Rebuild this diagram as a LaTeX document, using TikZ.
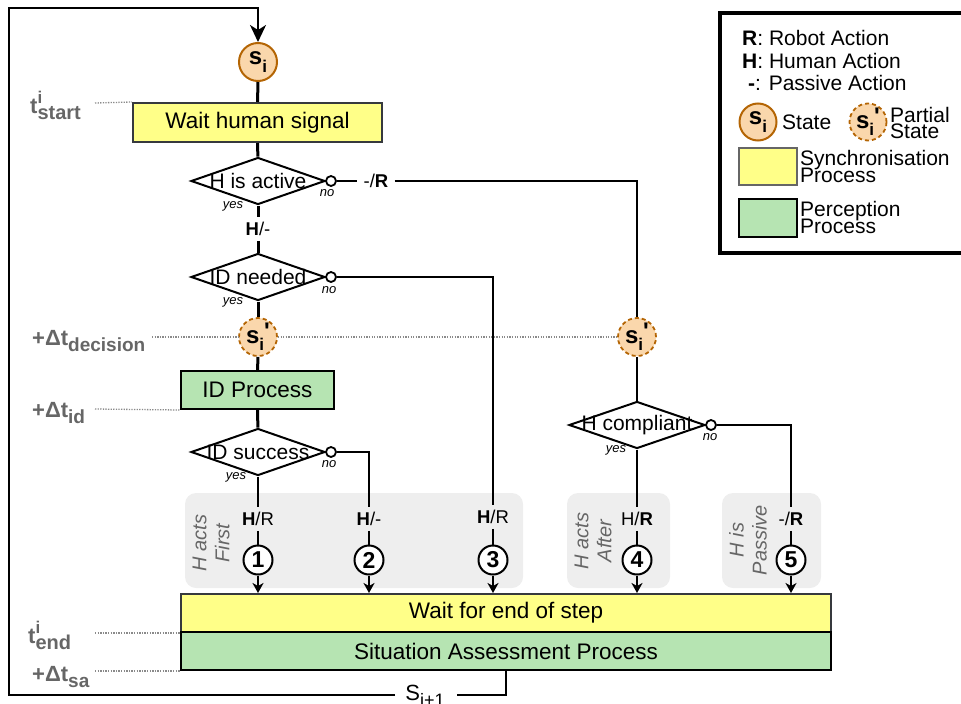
\documentclass[tikz,border=0pt]{standalone}
\usepackage{fontspec}
\setmainfont{Liberation Sans}
\usetikzlibrary{shapes.geometric,arrows.meta}
\newcommand\fsz[1]{\fontsize{#1}{#1}\selectfont}
\newcommand\dn[2]{\raisebox{-0.3em}{\fsz{#1}#2}}
\newcommand\tsupsub[2]{\rlap{\raisebox{0.45em}{\fsz{17}#1}}\raisebox{-0.3em}{\fsz{20}#2}}
\definecolor{syncfill}{HTML}{FFFF88}
\definecolor{syncline}{HTML}{36393D}
\definecolor{percfill}{HTML}{B6E4B2}
\definecolor{statefill}{HTML}{FAD7AC}
\definecolor{stateline}{HTML}{B46504}
\definecolor{regionfill}{HTML}{EEEEEE}
\definecolor{timegray}{HTML}{666666}
\definecolor{dotgray}{HTML}{8A8A8A}
\begin{document}
\begin{tikzpicture}[x=1pt,y=-1pt,
  proc/.style={rectangle, draw=syncline, line width=2pt, inner sep=0, font=\fsz{22.5}},
  sync/.style={proc, fill=syncfill},
  perc/.style={proc, fill=percfill, draw=black},
  dia/.style={diamond, draw, line width=2pt, fill=white, inner sep=0, minimum width=134pt, minimum height=47pt},
  dtext/.style={font=\fsz{21}, inner sep=0},
  port/.style={circle, draw, line width=1.8pt, fill=white, minimum size=10pt, inner sep=0},
  yn/.style={font=\itshape\fsz{13}, inner sep=0},
  state/.style={circle, draw=stateline, fill=statefill, line width=2pt, minimum size=38pt, inner sep=0, font=\bfseries\fsz{24}},
  pstate/.style={state, dash pattern=on 4pt off 3pt, line width=1.8pt},
  num/.style={circle, draw, fill=white, line width=2pt, minimum size=29pt, inner sep=0, font=\bfseries\fsz{23}},
  act/.style={font=\fsz{18.5}, inner xsep=6pt, inner ysep=5pt},
  flow/.style={line width=3pt},
  conn/.style={line width=2pt},
  arr/.style={conn, -{Stealth[length=10pt,width=11pt,inset=3pt]}},
  region/.style={fill=regionfill, rounded corners=11pt, inner sep=0},
  regtext/.style={font=\itshape\fontsize{20}{23}\selectfont, text=timegray, rotate=90, align=center, inner sep=0},
  tlab/.style={font=\bfseries\fsz{22}, text=timegray, anchor=base west, inner sep=0},
  tline/.style={dotgray, line width=1.3pt, dash pattern=on 1.3pt off 1.3pt},
  leg/.style={font=\fsz{21}, anchor=base west, inner sep=0},
  legframe/.style={line width=3.5pt}
]
\useasboundingbox (0,0) rectangle (961,704);

% grey regions
\node[region, minimum width=338pt, minimum height=95pt] (r1) at (354,540.5) {};
\node[region, minimum width=103pt, minimum height=95pt] (r2) at (618.5,540.5) {};
\node[region, minimum width=99pt, minimum height=95pt] (r3) at (771.5,540.5) {};
\node[regtext] (r1t) at (211,543) {H acts\\First};
\node[regtext] (r2t) at (593,541) {H acts\\After};
\node[regtext] (r3t) at (748,540) {H is\\Passive};

% main nodes
\node[state] (si) at (258,62) {s\dn{17}{i}};
\node[sync, minimum width=249pt, minimum height=39pt] (wait1) at (257.5,122.5) {Wait human signal};
\node[dia] (d1) at (258,181) {};
\node[dtext] (d1t) at (d1) {H is active};
\node[port] (p1) at ([xshift=5pt]d1.east) {};
\node[act] (hl) at (258,229) {\textbf{H}/-};
\node[dia] (d2) at (258,277) {};
\node[dtext] (d2t) at (d2) {ID needed};
\node[port] (p2) at ([xshift=5pt]d2.east) {};
\node[pstate] (ps1) at (258,337) {s\dn{17}{i}\raisebox{0.15em}{\textquotesingle}};
\node[perc, minimum width=153pt, minimum height=38pt] (idp) at (257.5,390) {ID Process};
\node[dia] (d3) at (258,452) {};
\node[dtext] (d3t) at (d3) {ID success};
\node[port] (p3) at ([xshift=5pt]d3.east) {};
\node[act] (rl) at (376,181) {-/\textbf{R}};
\node[pstate] (ps2) at (637,337) {s\dn{17}{i}\raisebox{0.15em}{\textquotesingle}};
\node[dia, minimum width=136pt] (d4) at (637,425) {};
\node[dtext] (d4t) at (d4) {H compliant};
\node[port] (p4) at ([xshift=5pt]d4.east) {};

\node[yn] (y1) at (233,206) {yes};
\node[yn] (n1l) at (327,193) {no};
\node[yn] (y2) at (233,302) {yes};
\node[yn] (n2l) at (329,290) {no};
\node[yn] (y3) at (236,477) {yes};
\node[yn] (n3l) at (329,464) {no};
\node[yn] (y4) at (616,450) {yes};
\node[yn] (n4l) at (710,437) {no};

\node[act] (l1) at (258,519) {\textbf{H}/R};
\node[act] (l2) at (369,519) {\textbf{H}/-};
\node[act] (l3) at (493,517) {\textbf{H}/R};
\node[act] (l4) at (637,519) {H/\textbf{R}};
\node[act] (l5) at (791,519) {-/\textbf{R}};
\node[num] (n1) at (258,560) {1};
\node[num] (n2) at (369,560) {2};
\node[num] (n3) at (493,560) {3};
\node[num] (n4) at (637,560) {4};
\node[num] (n5) at (791,560) {5};

\node[sync, minimum width=650pt, minimum height=38pt] (wait2) at (506,613) {Wait for end of step};
\node[perc, minimum width=650pt, minimum height=38pt] (sa) at (506,651) {Situation Assessment Process};

\node[font=\fsz{22}, inner sep=0, anchor=base] (snext) at (425,700) {S\dn{18}{i+1}};
\coordinate (sl) at (395,695);
\coordinate (sr) at (457,695);
\coordinate (bl) at (9,695);
\coordinate (tl) at (9,8);
\coordinate (tr) at (258,8);

% flow connectors
\draw[flow] (si) -- (wait1);
\draw[flow] (wait1) -- (d1);
\draw[flow] (d1) -- (hl);
\draw[flow] (hl) -- (d2);
\draw[flow] (d2) -- (ps1);
\draw[flow] (ps1) -- (idp);
\draw[flow] (idp) -- (d3);
\draw[conn] (d3) -- (l1);
\draw[conn] (l1) -- (n1);
\draw[arr] (n1) -- (n1 |- wait2.north);
\draw[conn] (p3) -| (l2);
\draw[conn] (l2) -- (n2);
\draw[arr] (n2) -- (n2 |- wait2.north);
\draw[conn] (p2) -| (l3);
\draw[conn] (l3) -- (n3);
\draw[arr] (n3) -- (n3 |- wait2.north);
\draw[conn] (p1) -- (rl);
\draw[conn] (rl) -| (ps2);
\draw[conn] (ps2) -- (d4);
\draw[conn] (d4) -- (l4);
\draw[conn] (l4) -- (n4);
\draw[arr] (n4) -- (n4 |- wait2.north);
\draw[conn] (p4) -| (l5);
\draw[conn] (l5) -- (n5);
\draw[arr] (n5) -- (n5 |- wait2.north);
% loop back
\draw[conn] (sa.south) |- (sr);
\draw[conn, -{Stealth[length=17pt,width=16pt,inset=5pt]}] (sl) -- (bl) -- (tl) -- (tr) -- (si.north);

% time labels
\node[tlab] (ts) at (30,113) {t\tsupsub{i}{start}};
\node[tlab] (tdec) at (32,345) {+Δt\dn{19}{decision}};
\node[tlab] (tid) at (32,417) {+Δt\dn{19}{id}};
\node[tlab] (te) at (28,643) {t\tsupsub{i}{end}};
\node[tlab] (tsa) at (32,681) {+Δt\dn{19}{sa}};
\coordinate (ds) at (95,103);
\coordinate (dd) at (152,337);
\coordinate (di) at (95,409);
\coordinate (de) at (95,633);
\coordinate (dsa) at (95,671);
\draw[tline] (ds) -- (wait1.north west);
\draw[tline] (dd) -- (ps1.west);
\draw[tline] (ps1.east) -- (ps2.west);
\draw[tline] (di) -- (idp.south west);
\draw[tline] (de) -- (wait2.south west);
\draw[tline] (dsa) -- (sa.south west);

% legend (frame runs off the right edge)
\draw[legframe] (1000,13) -- (720,13) -- (720,253) -- (1000,253);
\node[leg] (lr) at (742,45) {\textbf{R}: Robot Action};
\node[leg] (lh) at (742,68) {\textbf{H}: Human Action};
\node[leg] (lp) at (748,90) {\textbf{-}: Passive Action};
\node[state, minimum size=37pt] (ls) at (758,122) {s\dn{17}{i}};
\node[leg] (lst) at (782,129) {State};
\node[pstate, minimum size=37pt] (lps) at (868,122) {s\dn{17}{i}\raisebox{0.15em}{\textquotesingle}};
\node[leg] (lpa) at (890,122) {Partial};
\node[leg] (lpb) at (890,138) {State};
\node[draw=timegray, fill=syncfill, line width=2pt, minimum width=58pt, minimum height=37pt, inner sep=0] (lsync) at (768,166.5) {};
\node[leg] (lsa) at (800,165) {Synchronisation};
\node[leg] (lsb) at (800,182) {Process};
\node[draw=black, fill=percfill, line width=2pt, minimum width=58pt, minimum height=38pt, inner sep=0] (lperc) at (768,218) {};
\node[leg] (lpea) at (800,216) {Perception};
\node[leg] (lpeb) at (800,233) {Process};
\end{tikzpicture}
\end{document}
